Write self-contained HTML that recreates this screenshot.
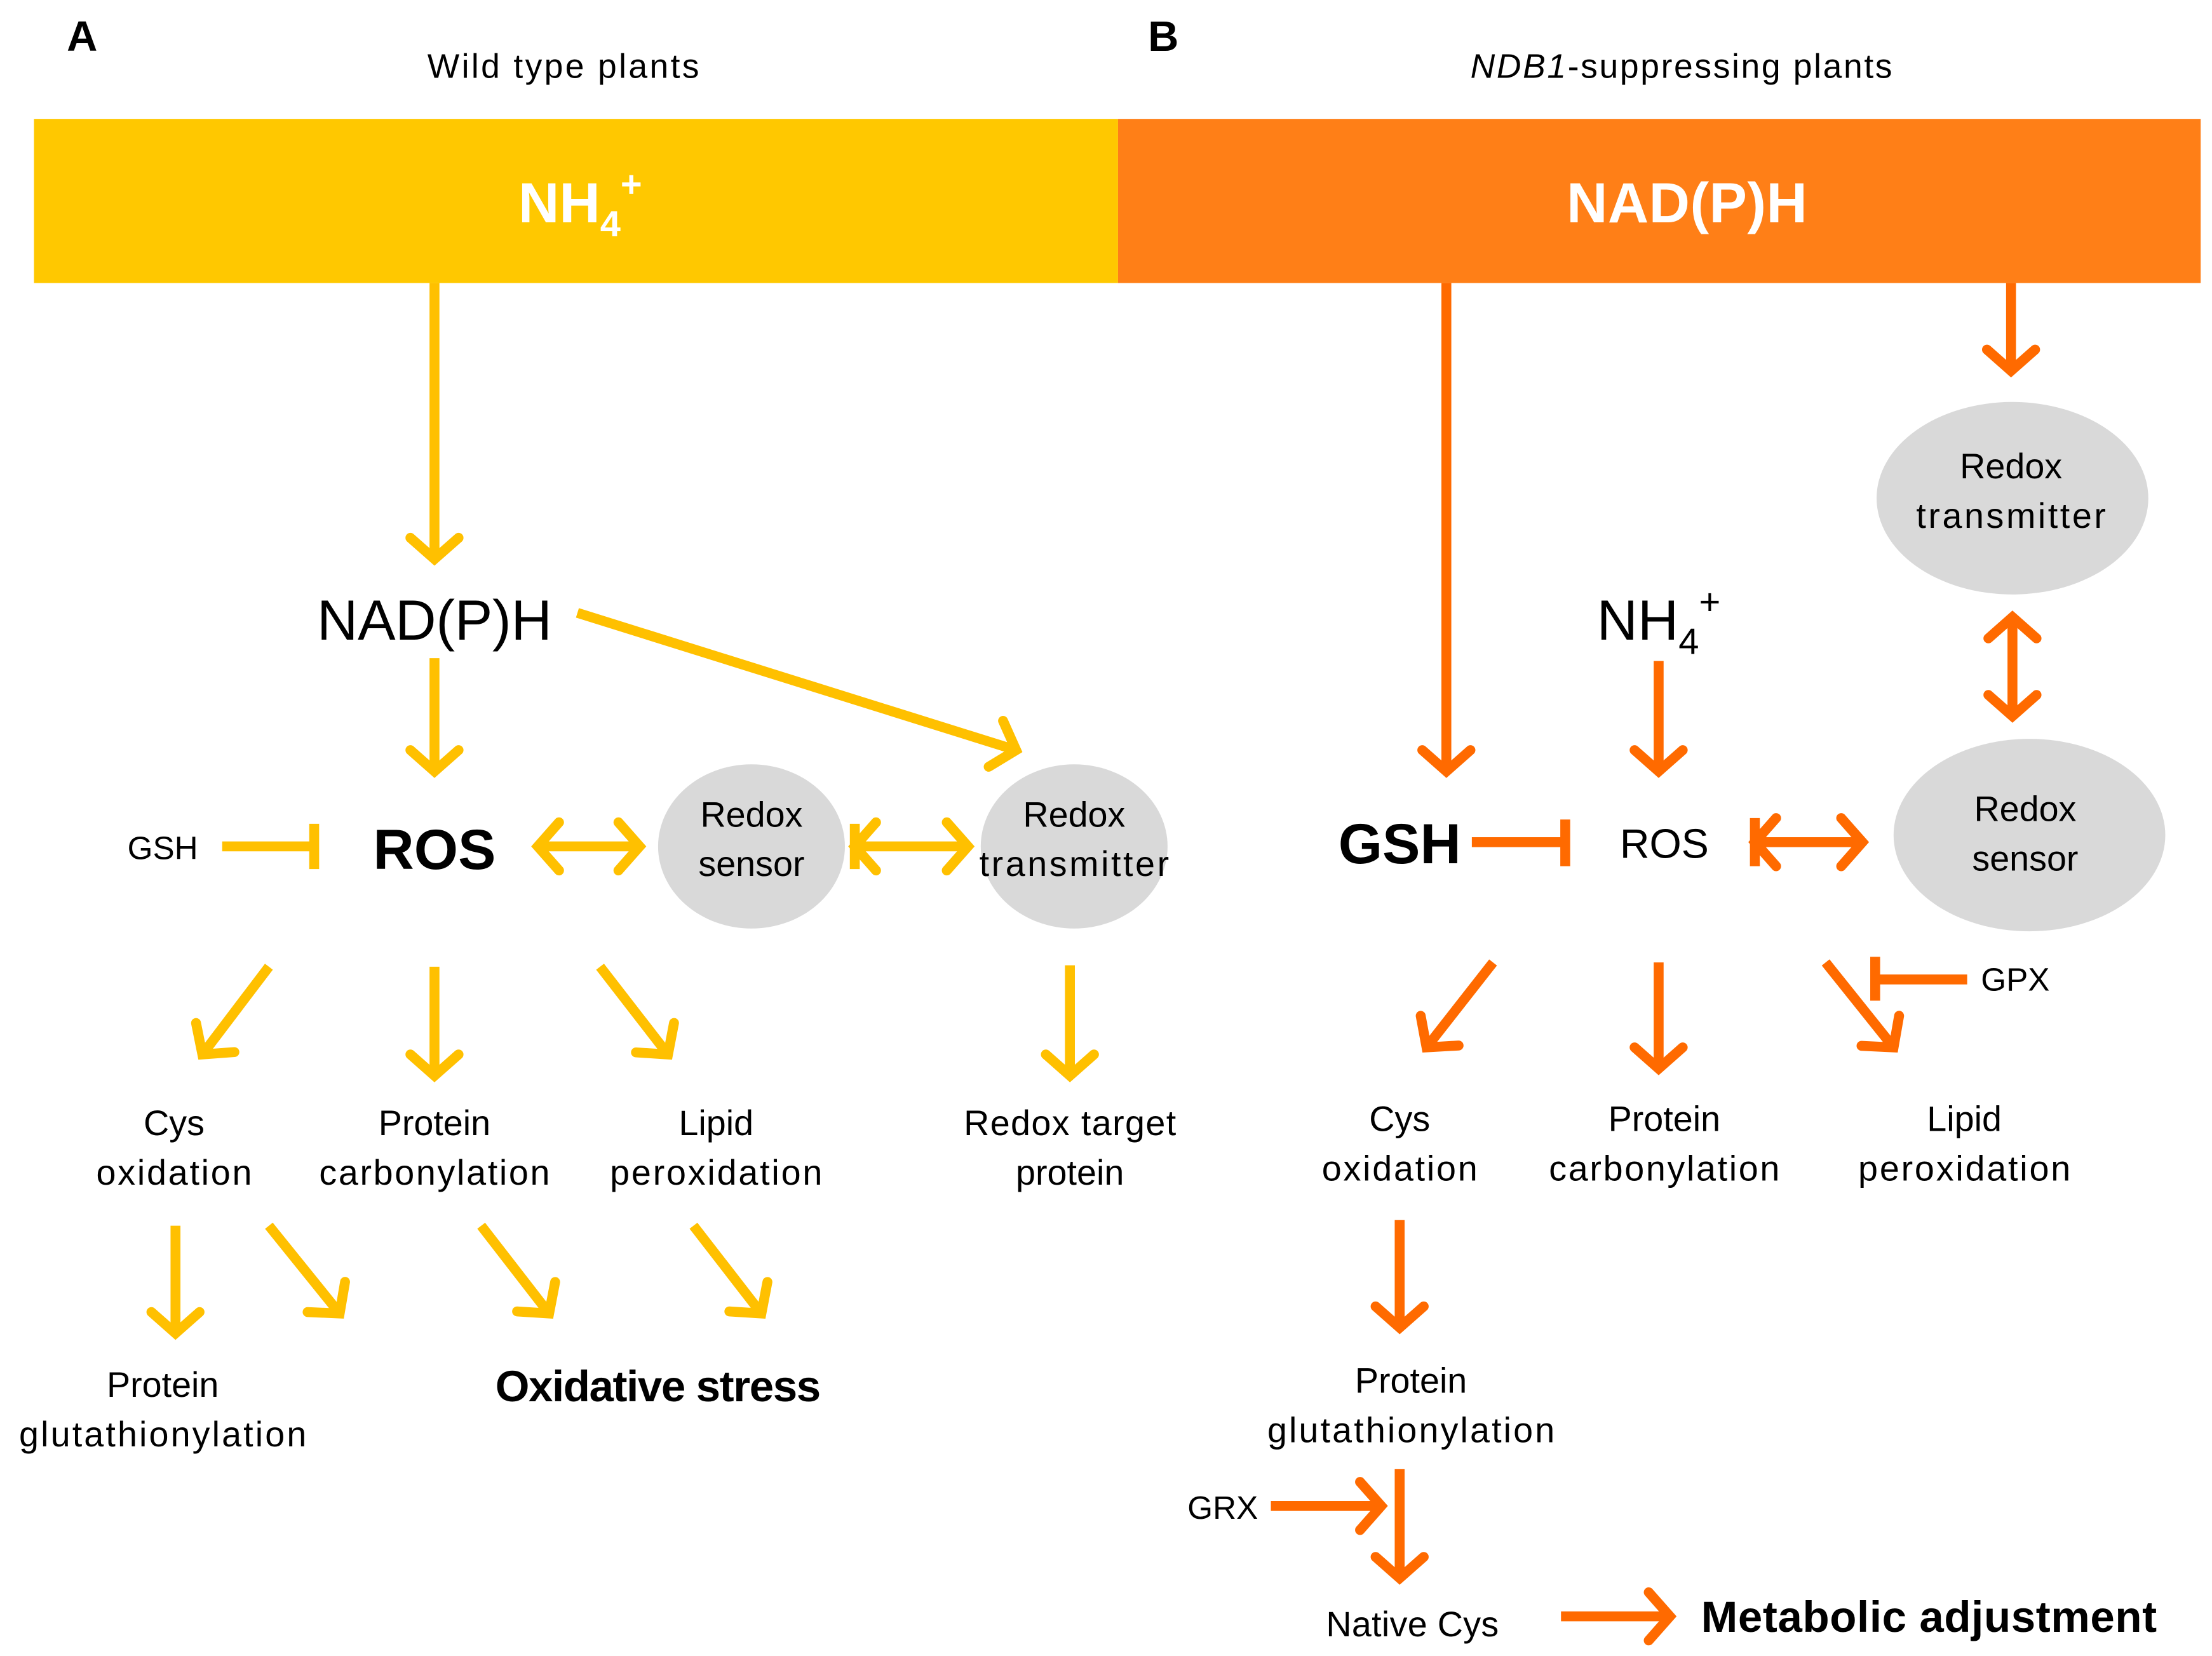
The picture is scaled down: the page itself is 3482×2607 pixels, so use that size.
<!DOCTYPE html>
<html><head><meta charset="utf-8"><style>
html,body{margin:0;padding:0;background:#fff;}
svg{display:block;}
text{font-family:"Liberation Sans",sans-serif;}
</style></head><body>
<svg width="3482" height="2607" viewBox="0 0 1563 1170" preserveAspectRatio="none" xmlns="http://www.w3.org/2000/svg">
<defs>
<marker id="hy" markerUnits="userSpaceOnUse" markerWidth="44" markerHeight="44" refX="22" refY="22" orient="auto-start-reverse" viewBox="0 0 44 44">
<path d="M7,5 L22,22 L7,39" fill="none" stroke="#FFC000" stroke-width="7" stroke-linecap="round" stroke-linejoin="miter"/></marker>
<marker id="ho" markerUnits="userSpaceOnUse" markerWidth="44" markerHeight="44" refX="22" refY="22" orient="auto-start-reverse" viewBox="0 0 44 44">
<path d="M7,5 L22,22 L7,39" fill="none" stroke="#FF6A00" stroke-width="7" stroke-linecap="round" stroke-linejoin="miter"/></marker>
</defs>
<rect x="0" y="0" width="1563" height="1170" fill="#fff"/>
<rect x="24" y="84" width="766" height="116" fill="#FFC800"/>
<rect x="790" y="84" width="765" height="116" fill="#FF7F17"/>
<text x="58" y="36" font-size="30" font-weight="bold" text-anchor="middle">A</text>
<text x="822" y="36" font-size="30" font-weight="bold" text-anchor="middle">B</text>
<text x="398" y="55" font-size="24" text-anchor="middle" textLength="192">Wild type plants</text>
<text x="1188" y="55" font-size="24" text-anchor="middle" textLength="298"><tspan font-style="italic">NDB1</tspan>-suppressing plants</text>
<text x="410" y="157" font-size="40" font-weight="bold" fill="#fff" text-anchor="middle">NH<tspan font-size="26" dy="10">4</tspan><tspan font-size="26" dy="-28">+</tspan></text>
<text x="1192" y="157" font-size="40" font-weight="bold" fill="#fff" text-anchor="middle" textLength="170">NAD(P)H</text>

<g stroke="#FFC000" stroke-width="7" fill="none">
<line x1="307" y1="200" x2="307" y2="395" marker-end="url(#hy)"/>
<line x1="307" y1="465" x2="307" y2="545" marker-end="url(#hy)"/>
<line x1="408" y1="433" x2="718" y2="530" marker-end="url(#hy)"/>
<line x1="157" y1="598" x2="222" y2="598"/>
<line x1="222" y1="582" x2="222" y2="614"/>
<line x1="380" y1="598" x2="452" y2="598" marker-start="url(#hy)" marker-end="url(#hy)"/>
<line x1="604" y1="598" x2="684" y2="598" marker-start="url(#hy)" marker-end="url(#hy)"/>
<line x1="604" y1="582" x2="604" y2="614"/>
<line x1="756" y1="682" x2="756" y2="760" marker-end="url(#hy)"/>
<line x1="190" y1="683" x2="143" y2="745" marker-end="url(#hy)"/>
<line x1="307" y1="683" x2="307" y2="760" marker-end="url(#hy)"/>
<line x1="424" y1="683" x2="472" y2="745" marker-end="url(#hy)"/>
<line x1="124" y1="866" x2="124" y2="942" marker-end="url(#hy)"/>
<line x1="190" y1="866" x2="240" y2="928" marker-end="url(#hy)"/>
<line x1="340" y1="866" x2="388" y2="928" marker-end="url(#hy)"/>
<line x1="490" y1="866" x2="538" y2="928" marker-end="url(#hy)"/>
</g>
<ellipse cx="531" cy="598" rx="66" ry="58" fill="#D9D9D9"/>
<ellipse cx="759" cy="598" rx="66" ry="58" fill="#D9D9D9"/>
<g font-size="25" text-anchor="middle">
<text x="307" y="452" font-size="40" textLength="166">NAD(P)H</text>
<text x="115" y="607" font-size="23">GSH</text>
<text x="307" y="614" font-size="40" font-weight="bold">ROS</text>
<text x="531" y="584">Redox</text><text x="531" y="619">sensor</text>
<text x="759" y="584">Redox</text><text x="759" y="619" textLength="134">transmitter</text>
<text x="123" y="802">Cys</text><text x="123" y="837" textLength="110">oxidation</text>
<text x="307" y="802">Protein</text><text x="307" y="837" textLength="163">carbonylation</text>
<text x="506" y="802">Lipid</text><text x="506" y="837" textLength="150">peroxidation</text>
<text x="756" y="802" textLength="150">Redox target</text><text x="756" y="837">protein</text>
<text x="115" y="987">Protein</text><text x="115" y="1022" textLength="203">glutathionylation</text>
<text x="465" y="990" font-size="31" font-weight="bold" textLength="230">Oxidative stress</text>
</g>

<g stroke="#FF6A00" stroke-width="7" fill="none">
<line x1="1022" y1="200" x2="1022" y2="545" marker-end="url(#ho)"/>
<line x1="1421" y1="200" x2="1421" y2="262" marker-end="url(#ho)"/>
<line x1="1422" y1="436" x2="1422" y2="506" marker-start="url(#ho)" marker-end="url(#ho)"/>
<line x1="1172" y1="467" x2="1172" y2="545" marker-end="url(#ho)"/>
<line x1="1040" y1="595" x2="1106" y2="595"/>
<line x1="1106" y1="579" x2="1106" y2="612"/>
<line x1="1240" y1="595" x2="1316" y2="595" marker-start="url(#ho)" marker-end="url(#ho)"/>
<line x1="1240" y1="578" x2="1240" y2="612"/>
<line x1="1055" y1="680" x2="1008" y2="740" marker-end="url(#ho)"/>
<line x1="1172" y1="680" x2="1172" y2="755" marker-end="url(#ho)"/>
<line x1="1290" y1="680" x2="1338" y2="740" marker-end="url(#ho)"/>
<line x1="1390" y1="692" x2="1325" y2="692"/>
<line x1="1325" y1="676" x2="1325" y2="707"/>
<line x1="989" y1="862" x2="989" y2="938" marker-end="url(#ho)"/>
<line x1="989" y1="1038" x2="989" y2="1115" marker-end="url(#ho)"/>
<line x1="898" y1="1064" x2="976" y2="1064" marker-end="url(#ho)"/>
<line x1="1103" y1="1142" x2="1180" y2="1142" marker-end="url(#ho)"/>
</g>
<ellipse cx="1422" cy="352" rx="96" ry="68" fill="#D9D9D9"/>
<ellipse cx="1434" cy="590" rx="96" ry="68" fill="#D9D9D9"/>
<g font-size="25" text-anchor="middle">
<text x="1421" y="338">Redox</text><text x="1421" y="373" textLength="134">transmitter</text>
<text x="1431" y="580">Redox</text><text x="1431" y="615">sensor</text>
<text x="1172" y="452" font-size="40">NH<tspan font-size="26" dy="10">4</tspan><tspan font-size="26" dy="-28">+</tspan></text>
<text x="989" y="610" font-size="40" font-weight="bold">GSH</text>
<text x="1176" y="606" font-size="29">ROS</text>
<text x="1424" y="700" font-size="23">GPX</text>
<text x="989" y="799">Cys</text><text x="989" y="834" textLength="110">oxidation</text>
<text x="1176" y="799">Protein</text><text x="1176" y="834" textLength="163">carbonylation</text>
<text x="1388" y="799">Lipid</text><text x="1388" y="834" textLength="150">peroxidation</text>
<text x="997" y="984">Protein</text><text x="997" y="1019" textLength="203">glutathionylation</text>
<text x="864" y="1073" font-size="23">GRX</text>
<text x="998" y="1156" textLength="122">Native Cys</text>
<text x="1363" y="1153" font-size="31" font-weight="bold" textLength="322">Metabolic adjustment</text>
</g>
</svg>
</body></html>
